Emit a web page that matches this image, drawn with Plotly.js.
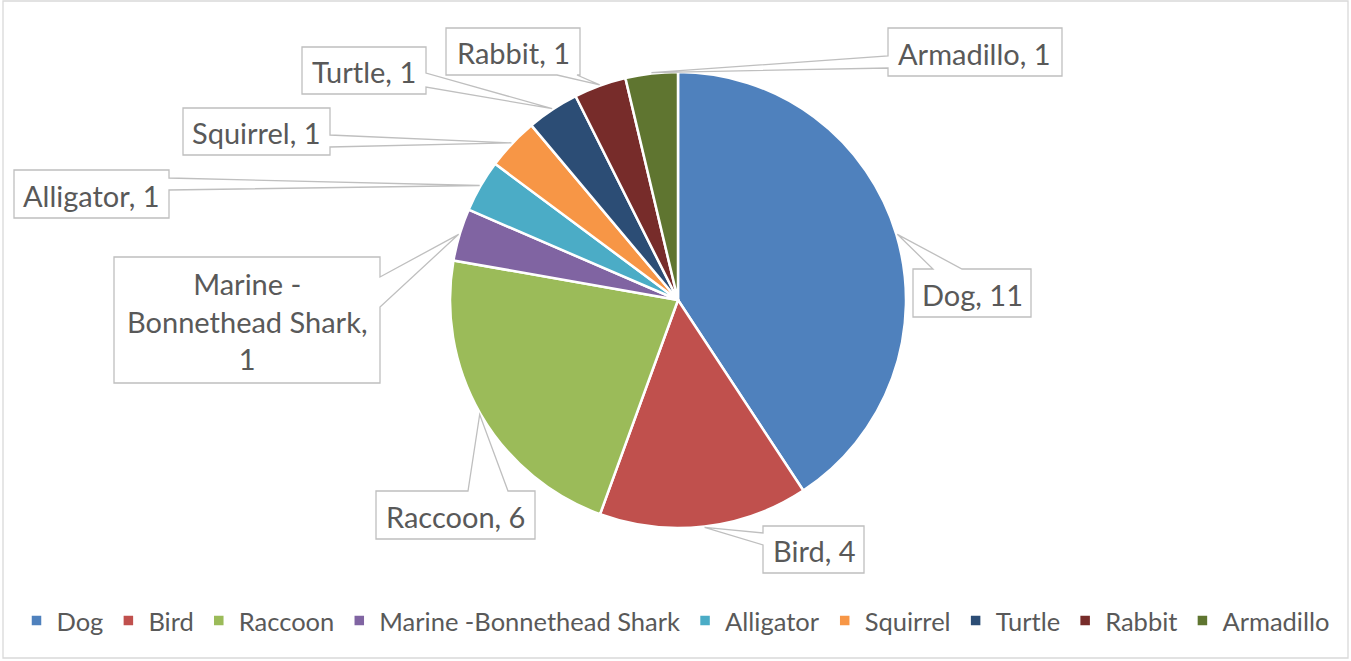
<!DOCTYPE html>
<html>
<head>
<meta charset="utf-8">
<script src="https://cdn.plot.ly/plotly-3.0.1.min.js"></script>
<style>html,body{margin:0;padding:0;background:#fff;}#chart{width:1351px;height:661px;}</style>
</head>
<body>
<div id="chart"></div>
<script>
// ---- data ----
const categories = ['Dog', 'Bird', 'Raccoon', 'Marine -Bonnethead Shark', 'Alligator', 'Squirrel', 'Turtle', 'Rabbit', 'Armadillo'];
const counts = [11, 4, 6, 1, 1, 1, 1, 1, 1];
const sliceColors = ['#4F81BD', '#C0504D', '#9BBB59', '#8064A2', '#4BACC6', '#F79646', '#2C4D75', '#772C2A', '#5F7530'];

// ---- layout (pixels) ----
const W = 1351, H = 661;
const CX = 678, CY = 300, R = 228;
const FONT = 'Lato, "Open Sans", sans-serif';
const LABEL_COLOR = '#595959';
const BOX_LINE = '#BFBFBF';

// callout boxes: [x0,y0,x1,y1], side where the pointer leaves, pointer base span
const callouts = [
  {box: [913, 269, 1031, 317], side: 'top', base: [933, 962]},
  {box: [763, 526, 864, 573], side: 'left', base: [533, 545]},
  {box: [376, 491, 535, 539], side: 'top', base: [468, 508]},
  {box: [114, 257, 380, 383], side: 'right', base: [277, 307], wrap: ['Marine -', 'Bonnethead Shark,']},
  {box: [14, 170, 169, 218], side: 'right', base: [178, 190]},
  {box: [183, 108, 330, 155], side: 'right', base: [135, 147]},
  {box: [302, 47, 426, 94], side: 'right', base: [73, 87]},
  {box: [446, 28, 580, 75], side: 'bottom', base: [557, 577]},
  {box: [888, 28, 1062, 76], side: 'left', base: [56, 68]}
];

const px = x => x / W;
const py = y => 1 - y / H;

const total = counts.reduce((a, b) => a + b, 0);
let cum = 0;
const shapes = [];
const annotations = [];

// chart frame
shapes.push({type: 'rect', xref: 'paper', yref: 'paper', x0: px(3), x1: px(1348), y0: py(658), y1: py(1),
  line: {color: '#D9D9D9', width: 1.3}, fillcolor: 'rgba(0,0,0,0)', layer: 'below'});

categories.forEach((cat, i) => {
  const mid = (cum + counts[i] / 2) / total * 2 * Math.PI; // clockwise from 12 o'clock
  cum += counts[i];
  const tx = CX + (R + 1) * Math.sin(mid);
  const ty = CY - (R + 1) * Math.cos(mid);
  const c = callouts[i];
  const [x0, y0, x1, y1] = c.box;
  const [b0, b1] = c.base;
  const pts = [];
  pts.push([x0, y0]);
  if (c.side === 'top') { pts.push([b0, y0], [tx, ty], [b1, y0]); }
  pts.push([x1, y0]);
  if (c.side === 'right') { pts.push([x1, b0], [tx, ty], [x1, b1]); }
  pts.push([x1, y1]);
  if (c.side === 'bottom') { pts.push([b1, y1], [tx, ty], [b0, y1]); }
  pts.push([x0, y1]);
  if (c.side === 'left') { pts.push([x0, b1], [tx, ty], [x0, b0]); }
  const path = pts.map((p, k) => (k ? 'L' : 'M') + px(p[0]).toFixed(5) + ',' + py(p[1]).toFixed(5)).join(' ') + ' Z';
  shapes.push({type: 'path', xref: 'paper', yref: 'paper', path: path,
    line: {color: BOX_LINE, width: 1.3}, fillcolor: '#FFFFFF', layer: 'above'});
  let text;
  if (c.wrap) text = c.wrap.join('<br>') + '<br>' + counts[i];
  else text = cat + ', ' + counts[i];
  annotations.push({xref: 'paper', yref: 'paper', x: px((x0 + x1) / 2), y: py((y0 + y1) / 2 + 1),
    xanchor: 'center', yanchor: 'middle', showarrow: false, text: text, align: 'center',
    font: {family: FONT, size: 29, color: LABEL_COLOR}});
});

const trace = {
  type: 'pie',
  labels: categories,
  values: counts,
  sort: false,
  direction: 'clockwise',
  rotation: 0,
  textinfo: 'none',
  hoverinfo: 'none',
  marker: {colors: sliceColors, line: {color: '#FFFFFF', width: 2.5}},
  domain: {x: [px(CX - R), px(CX + R)], y: [py(CY + R), py(CY - R)]}
};

const layout = {
  width: W, height: H,
  margin: {l: 0, r: 0, t: 0, b: 0},
  paper_bgcolor: '#FFFFFF',
  showlegend: true,
  legend: {orientation: 'h', x: 0.5, xanchor: 'center', y: py(621), yanchor: 'middle',
    font: {family: FONT, size: 25.5, color: LABEL_COLOR}, traceorder: 'normal'},
  shapes: shapes,
  annotations: annotations
};

Plotly.newPlot('chart', [trace], layout, {staticPlot: true, displayModeBar: false});
</script>
</body>
</html>
